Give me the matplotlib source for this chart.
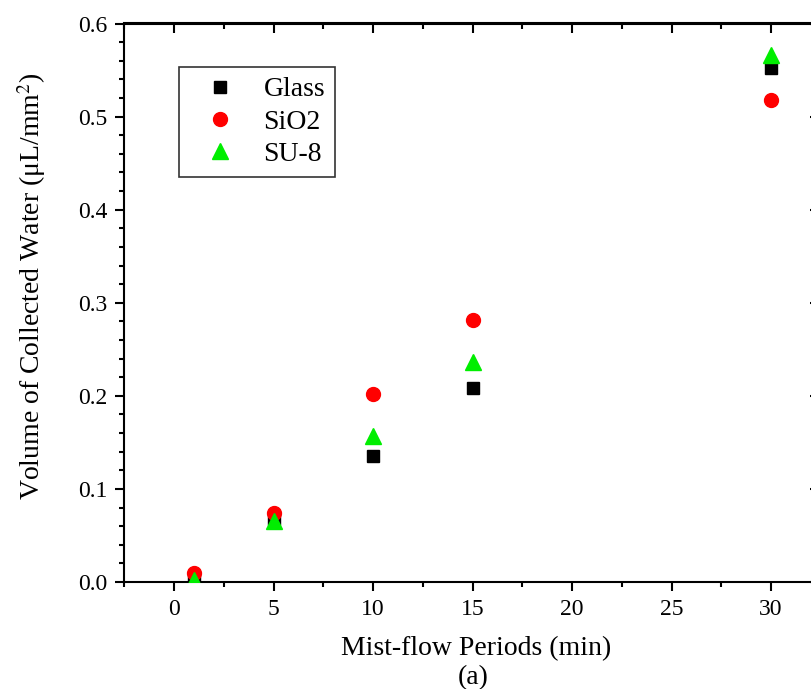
import matplotlib
matplotlib.use("Agg")
import matplotlib.pyplot as plt
from matplotlib.ticker import MultipleLocator

plt.rcParams['font.family'] = ['Liberation Serif', 'DejaVu Serif']
plt.rcParams['mathtext.fontset'] = 'stix'

periods = [1, 5, 10, 15, 30]
glass = [0.001, 0.068, 0.135, 0.208, 0.552]
sio2 = [0.010, 0.074, 0.202, 0.281, 0.518]
su8 = [0.002, 0.066, 0.157, 0.236, 0.566]

series_names = ['Glass', 'SiO2', 'SU-8']

fig = plt.figure(figsize=(8.12, 6.89), dpi=100)
ax = fig.add_axes([124.5/812, 107/689, (820.7-124.5)/812, (582-23.5)/689])

ax.plot(periods, glass, linestyle='none', marker='s', markersize=8.5, color='black', label=series_names[0], zorder=3)
ax.plot(periods, sio2, linestyle='none', marker='o', markersize=10, color='#ff0000', label=series_names[1], zorder=3)
ax.plot(periods, su8, linestyle='none', marker='^', markersize=11, color='#00ee00', label=series_names[2], zorder=4)

ax.set_xlim(-2.5, 32.5)
ax.set_ylim(0, 0.6)
ax.xaxis.set_minor_locator(MultipleLocator(2.5))
ax.yaxis.set_minor_locator(MultipleLocator(0.02))
ax.set_xticks([0, 5, 10, 15, 20, 25, 30])
ax.set_xticklabels(['0', '5', '10', '15', '20', '25', '30'])
ax.set_yticks([0.0, 0.1, 0.2, 0.3, 0.4, 0.5, 0.6])
ax.set_yticklabels(['0.0', '0.1', '0.2', '0.3', '0.4', '0.5', '0.6'])

for s in ax.spines.values():
    s.set_linewidth(1.5)

ax.tick_params(which='major', direction='out', length=6.5, width=1.5, labelsize=17, pad=6)
ax.tick_params(which='minor', direction='out', length=3.5, width=1.5)

sec_x = ax.secondary_xaxis('top')
sec_x.set_xticks([0, 5, 10, 15, 20, 25, 30])
sec_x.xaxis.set_minor_locator(MultipleLocator(2.5))
sec_x.tick_params(which='major', direction='in', length=7.5, width=1.5, labeltop=False)
sec_x.tick_params(which='minor', direction='in', length=4.5, width=1.5)
sec_x.spines['top'].set_linewidth(1.5)

sec_y = ax.secondary_yaxis('right')
sec_y.set_yticks([0.0, 0.1, 0.2, 0.3, 0.4, 0.5, 0.6])
sec_y.yaxis.set_minor_locator(MultipleLocator(0.02))
sec_y.tick_params(which='major', direction='in', length=8, width=1.5, labelright=False)
sec_y.tick_params(which='minor', direction='in', length=4.5, width=1.5)

ax.set_xlabel('Mist-flow Periods (min)', fontsize=20, va='center')
ax.xaxis.set_label_coords(0.505, -0.12)
ax.set_ylabel('Volume of Collected Water (\u03bcL/mm$^{2}$)', fontsize=20, va='center')
ax.yaxis.set_label_coords(-0.133, 0.53)
ax.text(0.501, -0.172, '(a)', transform=ax.transAxes, fontsize=20, ha='center', va='center')

leg = ax.legend(loc='upper left', bbox_to_anchor=(0.078, 0.922), fontsize=20, frameon=True,
                fancybox=False, edgecolor='#333333', framealpha=1, borderpad=0.35,
                labelspacing=0.25, handletextpad=0.4, borderaxespad=0, handlelength=2.3)
leg.get_frame().set_linewidth(1.2)

fig.savefig('out.png', dpi=100)
